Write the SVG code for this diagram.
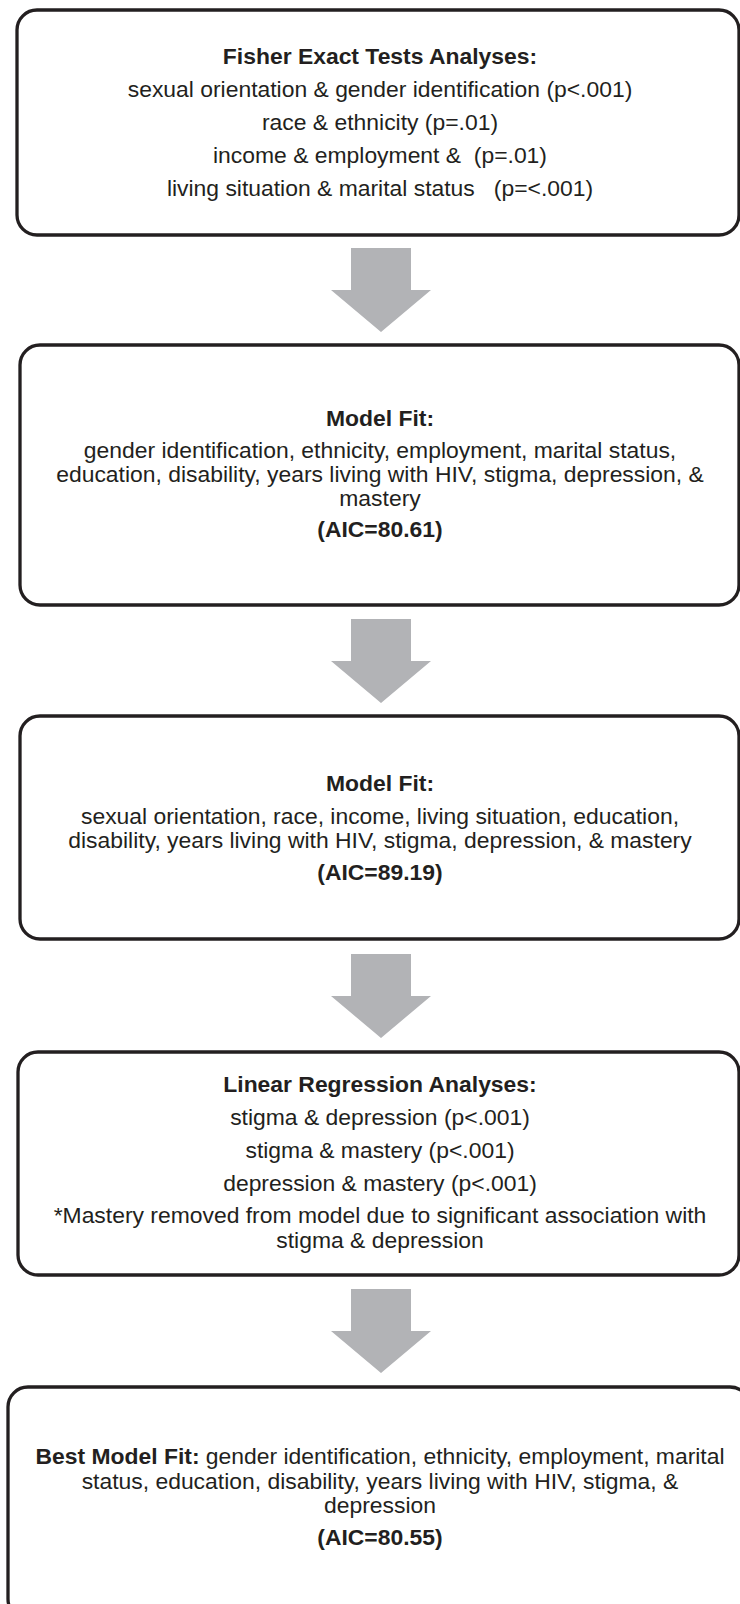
<svg xmlns="http://www.w3.org/2000/svg" xmlns:xlink="http://www.w3.org/1999/xlink" width="740" height="1604" viewBox="0 0 740 1604">
  <style>
    .box { fill: #ffffff; stroke: #231f20; stroke-width: 3.3; }
    .arrow { fill: #b2b3b6; stroke: none; }
    text { font-family: "Liberation Sans", Arial, sans-serif; font-size: 22.9px; fill: #231f20; text-anchor: middle; white-space: pre; }
    .b { font-weight: bold; }
  </style>
  <defs>
    <polygon id="arr" class="arrow" points="351,0 411,0 411,42 431,42 381,84 331,42 351,42"/>
  </defs>
  <rect width="740" height="1604" fill="#ffffff"/>
  <g id="connectors">
    <use xlink:href="#arr" href="#arr" transform="translate(0,248)"/>
    <use xlink:href="#arr" href="#arr" transform="translate(0,619)"/>
    <use xlink:href="#arr" href="#arr" transform="translate(0,954)"/>
    <use xlink:href="#arr" href="#arr" transform="translate(0,1289)"/>
  </g>
  <g id="node-fisher">
    <rect class="box" x="17" y="10" width="722" height="225" rx="20" ry="20"/>
    <text x="380" y="63.5" class="b">Fisher Exact Tests Analyses:</text>
    <text x="380" y="97">sexual orientation &amp; gender identification (p&lt;.001)</text>
    <text x="380" y="130">race &amp; ethnicity (p=.01)</text>
    <text x="380" y="163">income &amp; employment &amp;  (p=.01)</text>
    <text x="380" y="196">living situation &amp; marital status   (p=&lt;.001)</text>
  </g>
  <g id="node-model1">
    <rect class="box" x="20" y="345" width="719" height="260" rx="20" ry="20"/>
    <text x="380" y="426" class="b">Model Fit:</text>
    <text x="380" y="458">gender identification, ethnicity, employment, marital status,</text>
    <text x="380" y="482">education, disability, years living with HIV, stigma, depression, &amp;</text>
    <text x="380" y="506">mastery</text>
    <text x="380" y="537" class="b">(AIC=80.61)</text>
  </g>
  <g id="node-model2">
    <rect class="box" x="20" y="716" width="719" height="223" rx="20" ry="20"/>
    <text x="380" y="791" class="b">Model Fit:</text>
    <text x="380" y="824">sexual orientation, race, income, living situation, education,</text>
    <text x="380" y="848">disability, years living with HIV, stigma, depression, &amp; mastery</text>
    <text x="380" y="880" class="b">(AIC=89.19)</text>
  </g>
  <g id="node-regression">
    <rect class="box" x="18" y="1052" width="721" height="223" rx="20" ry="20"/>
    <text x="380" y="1092" class="b">Linear Regression Analyses:</text>
    <text x="380" y="1125">stigma &amp; depression (p&lt;.001)</text>
    <text x="380" y="1158">stigma &amp; mastery (p&lt;.001)</text>
    <text x="380" y="1191">depression &amp; mastery (p&lt;.001)</text>
    <text x="380" y="1223">*Mastery removed from model due to significant association with</text>
    <text x="380" y="1248">stigma &amp; depression</text>
  </g>
  <g id="node-best">
    <rect class="box" x="8" y="1387" width="742" height="232" rx="20" ry="20"/>
    <text x="380" y="1464"><tspan class="b">Best Model Fit:</tspan> gender identification, ethnicity, employment, marital</text>
    <text x="380" y="1489">status, education, disability, years living with HIV, stigma, &amp;</text>
    <text x="380" y="1513">depression</text>
    <text x="380" y="1545" class="b">(AIC=80.55)</text>
  </g>
</svg>
